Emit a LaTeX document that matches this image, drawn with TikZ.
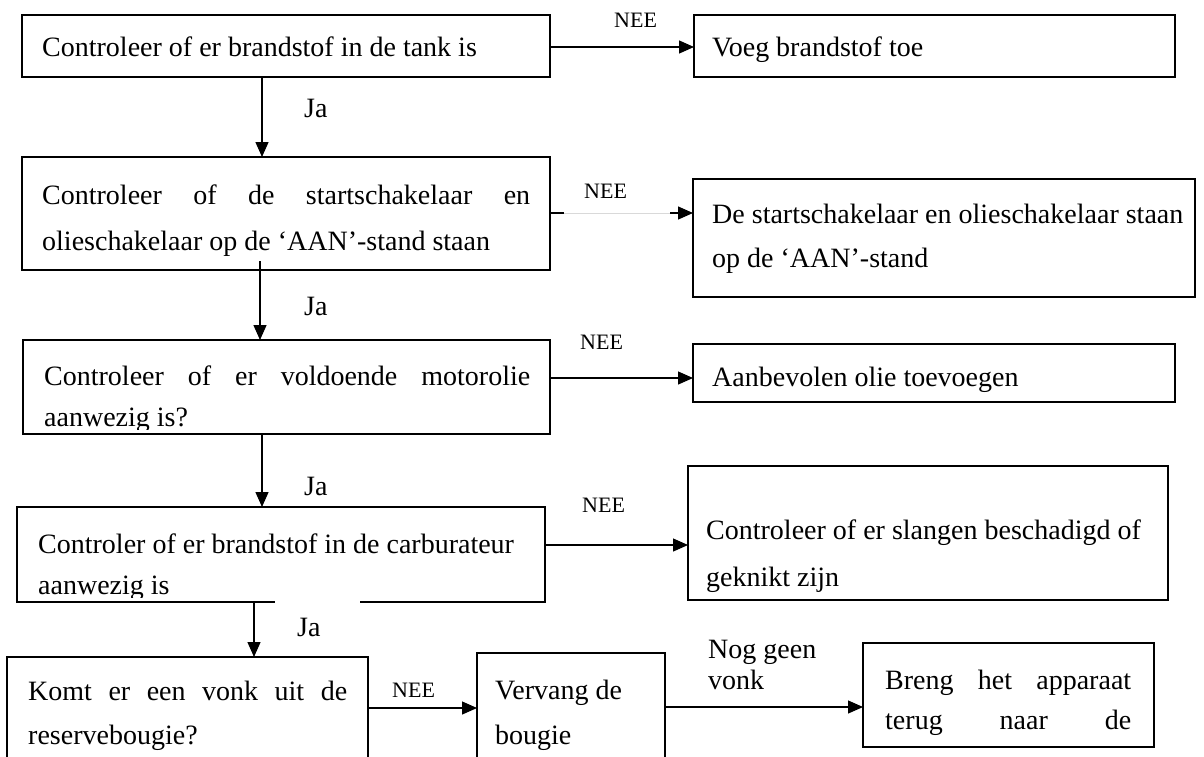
\documentclass[tikz,border=0pt]{standalone}
\usepackage{fontspec}
\setmainfont{Liberation Serif}
\usetikzlibrary{arrows.meta,calc}
\tikzset{
  box/.style={draw, line width=1.3pt, rectangle, inner sep=0pt, outer sep=0pt, anchor=north west},
  ln/.style={anchor=base west, inner sep=0pt, font=\fontsize{28pt}{34pt}\selectfont},
  nee/.style={anchor=base west, inner sep=0pt, font=\fontsize{22pt}{26pt}\selectfont},
  arr/.style={line width=1.3pt, -{Triangle[length=15pt,width=13pt]}},
  plain/.style={line width=1.3pt},
  faint/.style={line width=0.8pt, black!15},
}
\newcommand{\jl}[2]{\makebox[#1][s]{#2}}
\begin{document}
\begin{tikzpicture}[x=1pt,y=-1pt]
\useasboundingbox (0,0) rectangle (1204,756);
\fill[white] (0,0) rectangle (1204,756);

% ---------- boxes ----------
\node[box, minimum width=528pt, minimum height=62pt]  (b1) at (22,15) {};
\node[box, minimum width=481pt, minimum height=62pt]  (r1) at (694,15) {};
\node[box, minimum width=528pt, minimum height=113pt] (b2) at (22,157) {};
\node[box, minimum width=502pt, minimum height=118pt] (r2) at (693,179) {};
\node[box, minimum width=527pt, minimum height=94pt]  (b3) at (23,340) {};
\node[box, minimum width=482pt, minimum height=58pt]  (r3) at (693,344) {};
\node[box, minimum width=528pt, minimum height=95pt]  (b4) at (17,507) {};
\node[box, minimum width=480pt, minimum height=134pt] (r4) at (688,466) {};
\node[box, minimum width=361pt, minimum height=103pt] (b5) at (7,657) {};
\node[box, minimum width=188pt, minimum height=107pt] (b6) at (477,653) {};
\node[box, minimum width=291pt, minimum height=104pt] (b7) at (863,643) {};

% gap in the bottom edge of box 4
\fill[white] (275,598) rectangle (360,607);

% ---------- texts ----------
\node[ln] (t1) at (42,56) {Controleer of er brandstof in de tank is};
\node[ln] (tr1) at (712,56) {Voeg brandstof toe};

\node[ln] (t2a) at (42,204) {\jl{488pt}{Controleer of de startschakelaar en}};
\node[ln] (t2b) at (42,250) {olieschakelaar op de ‘AAN’-stand staan};
\node[ln] (tr2a) at (712,223) {De startschakelaar en olieschakelaar staan};
\node[ln] (tr2b) at (712,267) {op de ‘AAN’-stand};

\begin{scope}
\clip (b3.north west) rectangle ($(b3.south east)+(0,-5)$);
\node[ln] (t3a) at (44,385) {\jl{486pt}{Controleer of er voldoende motorolie}};
\node[ln] (t3b) at (44,426) {aanwezig is?};
\end{scope}
\node[ln] (tr3) at (712,386) {Aanbevolen olie toevoegen};

\begin{scope}
\clip (b4.north west) rectangle ($(b4.south east)+(0,-5)$);
\node[ln] (t4a) at (38,553) {Controler of er brandstof in de carburateur};
\node[ln] (t4b) at (38,594) {aanwezig is};
\end{scope}
\node[ln] (tr4a) at (706,539) {Controleer of er slangen beschadigd of};
\node[ln] (tr4b) at (706,586) {geknikt zijn};

\node[ln] (t5a) at (28,700) {\jl{319pt}{Komt er een vonk uit de}};
\node[ln] (t5b) at (28,744) {reservebougie?};
\node[ln] (t6a) at (495,699) {Vervang de};
\node[ln] (t6b) at (495,744) {bougie};
\node[ln] (t7a) at (885,689) {\jl{246pt}{Breng het apparaat}};
\node[ln] (t7b) at (885,729) {\jl{246pt}{terug naar de}};

% ---------- labels ----------
\node[nee] (n1) at (614,27) {NEE};
\node[nee] (n2) at (584,198) {NEE};
\node[nee] (n3) at (580,349) {NEE};
\node[nee] (n4) at (582,512) {NEE};
\node[nee] (n5) at (392,697) {NEE};
\node[ln] (j1) at (304,117) {Ja};
\node[ln] (j2) at (304,315) {Ja};
\node[ln] (j3) at (304,495) {Ja};
\node[ln] (j4) at (297,636) {Ja};
\node[ln] (ng1) at (708,658) {Nog geen};
\node[ln] (ng2) at (708,689) {vonk};

% ---------- connectors ----------
\coordinate (x1) at (262,0);
\coordinate (x2) at (260,0);
\coordinate (x3) at (262,0);
\coordinate (x4) at (254,0);
\draw[arr] (b1.south -| x1) -- (b2.north -| x1);
\draw[arr] ($(b2.south -| x2)+(0,-9)$) -- (b3.north -| x2);
\draw[arr] (b3.south -| x3) -- (b4.north -| x3);
\draw[arr] (b4.south -| x4) -- (b5.north -| x4);

\coordinate (y1) at (0,47);
\coordinate (y2) at (0,213);
\coordinate (y3) at (0,378);
\coordinate (y4) at (0,545);
\coordinate (y5) at (0,708);
\coordinate (y6) at (0,707);
\draw[arr] (b1.east |- y1) -- (r1.west |- y1);
\draw[plain] (b2.east |- y2) -- ($(b2.east |- y2)+(14,0)$);
\draw[faint] ($(b2.east |- y2)+(14,0)$) -- ($(r2.west |- y2)+(-23,0)$);
\draw[arr] ($(r2.west |- y2)+(-23,0)$) -- (r2.west |- y2);
\draw[arr] (b3.east |- y3) -- (r3.west |- y3);
\draw[arr] (b4.east |- y4) -- (r4.west |- y4);
\draw[arr] (b5.east |- y5) -- (b6.west |- y5);
\draw[arr] (b6.east |- y6) -- (b7.west |- y6);
\end{tikzpicture}
\end{document}
